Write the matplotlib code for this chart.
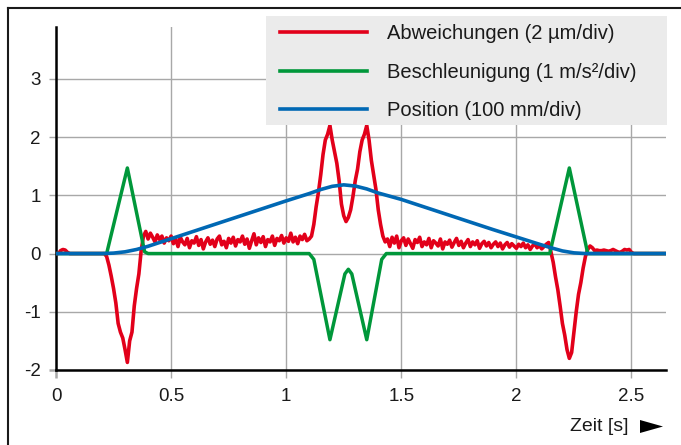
import numpy as np
import matplotlib
matplotlib.use("Agg")
import matplotlib.pyplot as plt
from matplotlib.lines import Line2D
from matplotlib.patches import Rectangle, Polygon

plt.rcParams["font.family"] = ["Liberation Sans", "DejaVu Sans"]

# --- data ---
# Abweichungen (red), sampled every 0.01 s from 0 to 2.65 s
red_y = [
    0, 0, 0.05, 0.07, 0.06, 0.02, 0, 0, 0, 0,
    0, 0, 0, 0, 0, 0, 0, 0, 0, 0,
    0, 0, -0.05, -0.2, -0.39, -0.6, -0.85, -1.2, -1.35, -1.45,
    -1.65, -1.87, -1.5, -1.35, -0.9, -0.6, -0.35, 0.05, 0.3, 0.38,
    0.25, 0.35, 0.28, 0.2, 0.32, 0.24, 0.3, 0.18, 0.27, 0.22,
    0.3, 0.17, 0.25, 0.12, 0.28, 0.2, 0.15, 0.26, 0.1, 0.22,
    0.18, 0.29, 0.14, 0.24, 0.08, 0.2, 0.27, 0.16, 0.23, 0.12,
    0.25, 0.3, 0.15, 0.21, 0.1, 0.26, 0.18, 0.28, 0.13, 0.24,
    0.2, 0.3, 0.16, 0.25, 0.09, 0.22, 0.34, 0.15, 0.27, 0.19,
    0.29, 0.12, 0.24, 0.2, 0.3, 0.14, 0.26, 0.22, 0.31, 0.18,
    0.27, 0.21, 0.35, 0.2, 0.28, 0.17, 0.3, 0.24, 0.33, 0.22,
    0.25, 0.3, 0.5, 0.8, 1.05, 1.35, 1.7, 1.95, 2.05, 2.2,
    1.95, 1.75, 1.55, 1.25, 0.85, 0.65, 0.55, 0.62, 0.75, 0.98,
    1.25, 1.45, 1.75, 1.95, 2.05, 2.2, 1.95, 1.6, 1.35, 1.1,
    0.75, 0.5, 0.3, 0.2, 0.25, 0.12, 0.28, 0.18, 0.3, 0.1,
    0.22, 0.27, 0.14, 0.25, 0.17, 0.09, 0.24, 0.19, 0.28, 0.12,
    0.2, 0.15, 0.26, 0.1, 0.22, 0.18, 0.13, 0.25, 0.08, 0.2,
    0.16, 0.23, 0.11, 0.19, 0.26, 0.14, 0.21, 0.1, 0.18, 0.24,
    0.12, 0.2, 0.15, 0.22, 0.09, 0.17, 0.21, 0.13, 0.19, 0.1,
    0.16, 0.2, 0.12, 0.18, 0.08, 0.15, 0.19, 0.11, 0.17, 0.13,
    0.09, 0.16, 0.12, 0.18, 0.1, 0.15, 0.07, 0.13, 0.17, 0.1,
    0.14, 0.08, 0.12, 0.16, 0.19, 0.03, -0.15, -0.4, -0.62, -0.9,
    -1.2, -1.4, -1.65, -1.8, -1.7, -1.35, -1.0, -0.7, -0.5, -0.25,
    -0.05, 0.07, 0.13, 0.1, 0.05, 0.06, 0.05, 0.05, 0.06, 0.05,
    0.04, 0.05, 0.07, 0.05, 0.03, 0.02, 0.04, 0.07, 0.06, 0.07,
    0.02, 0, 0, 0, 0, 0, 0, 0, 0, 0,
    0, 0, 0, 0, 0, 0,
]
red_t = np.arange(len(red_y)) * 0.01

# Beschleunigung (green)
green_t = [0, 0.22, 0.31, 0.385, 0.40, 1.10, 1.12, 1.19, 1.255, 1.27, 1.285,
           1.35, 1.415, 1.435, 2.145, 2.23, 2.31, 2.65]
green_y = [0, 0, 1.47, 0.03, 0, 0, -0.1, -1.48, -0.35, -0.27, -0.35,
           -1.48, -0.1, 0, 0, 1.47, 0, 0]

# Position (blue)
blue_t = [0, 0.2, 0.25, 0.3, 0.35, 0.4, 0.5, 0.6, 0.7, 0.8, 0.9, 1.0, 1.1,
          1.15, 1.2, 1.25, 1.3, 1.35, 1.4, 1.5, 1.6, 1.7, 1.8, 1.9, 2.0,
          2.1, 2.15, 2.2, 2.25, 2.3, 2.65]
blue_y = [0, 0, 0.008, 0.03, 0.07, 0.125, 0.255, 0.385, 0.515, 0.645, 0.775,
          0.905, 1.03, 1.1, 1.155, 1.18, 1.16, 1.11, 1.04, 0.93, 0.80, 0.67,
          0.54, 0.41, 0.285, 0.16, 0.10, 0.045, 0.012, 0, 0]

labels = ["Abweichungen (2 µm/div)", "Beschleunigung (1 m/s²/div)",
          "Position (100 mm/div)"]
colors = ["#e2001a", "#00973a", "#0068b4"]

x_ticks = [0, 0.5, 1, 1.5, 2, 2.5]
x_ticklabels = ["0", "0.5", "1", "1.5", "2", "2.5"]
y_ticks = [-2, -1, 0, 1, 2, 3]
y_ticklabels = ["-2", "-1", "0", "1", "2", "3"]

W, H = 681, 445
fig = plt.figure(figsize=(W / 100, H / 100), dpi=100)
ax = fig.add_axes([56 / W, 1 - 370 / H, (666 - 56) / W, (370 - 26.5) / H])

ax.plot(red_t, red_y, color=colors[0], lw=2.6, zorder=3)
ax.plot(green_t, green_y, color=colors[1], lw=2.5, zorder=4)
ax.plot(blue_t, blue_y, color=colors[2], lw=2.6, zorder=5)

ax.set_xlim(0, 2.65)
ax.set_ylim(-2, 3.9)
ax.set_xticks(x_ticks)
ax.set_xticklabels(x_ticklabels)
ax.set_yticks(y_ticks)
ax.set_yticklabels(y_ticklabels)

ax.grid(True, color="#a8a8a8", lw=1.0, zorder=0)
ax.tick_params(axis="both", colors="#a8a8a8", width=1.0, labelcolor="#1a1a1a",
               labelsize=13.5)
ax.tick_params(axis="x", length=5.8, pad=7)
ax.tick_params(axis="y", length=5.0, pad=6)
# ticks at the origin continue the black spines
ax.xaxis.get_major_ticks()[0].tick1line.set_color("black")
ax.xaxis.get_major_ticks()[0].tick1line.set_markeredgewidth(1.8)
ax.yaxis.get_major_ticks()[0].tick1line.set_color("black")
ax.yaxis.get_major_ticks()[0].tick1line.set_markeredgewidth(1.8)

for s in ["top", "right"]:
    ax.spines[s].set_visible(False)
for s in ["left", "bottom"]:
    ax.spines[s].set_color("black")
    ax.spines[s].set_linewidth(1.8)

# legend on a grey panel
fig.patches.append(Rectangle((266 / W, 1 - 125 / H), (667 - 266) / W, (125 - 16) / H,
                             transform=fig.transFigure, facecolor="#ebebeb",
                             edgecolor="none", zorder=6))
handles = [Line2D([], [], color=c, lw=2.6) for c in colors]
leg = fig.legend(handles, labels, loc="upper left",
                 bbox_to_anchor=(280 / W, 1 - 24 / H), bbox_transform=fig.transFigure,
                 frameon=False, fontsize=14.5, handlelength=4.3, handletextpad=1.0,
                 labelspacing=0.98, borderpad=0, borderaxespad=0)
leg.set_zorder(7)
for t in leg.get_texts():
    t.set_color("#1a1a1a")

# axis caption with arrow
fig.text(628 / W, 1 - 426.5 / H, "Zeit [s]", ha="right", va="center",
         fontsize=14, color="#1a1a1a")
fig.patches.append(Polygon([(640 / W, 1 - 420 / H), (640 / W, 1 - 433 / H),
                            (663 / W, 1 - 426.5 / H)], closed=True,
                           transform=fig.transFigure, facecolor="black",
                           edgecolor="none"))

# outer frame (top and left edges)
fig.lines.append(Line2D([7.5 / W, 1], [1 - 8 / H, 1 - 8 / H], transform=fig.transFigure,
                        color="#1a1a1a", lw=1.5))
fig.lines.append(Line2D([7.5 / W, 7.5 / W], [0, 1 - 8 / H], transform=fig.transFigure,
                        color="#1a1a1a", lw=1.5))

fig.savefig("out.png", dpi=100)
